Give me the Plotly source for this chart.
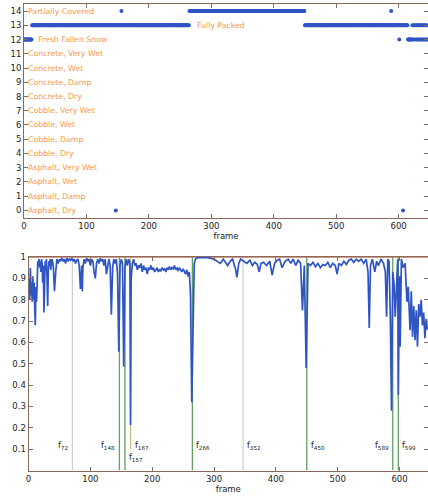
import plotly.graph_objects as go

# ---------------- data: top chart (class per frame, as runs) ----------------
class_names = ["Asphalt, Dry", "Asphalt, Damp", "Asphalt, Wet", "Asphalt, Very Wet",
               "Cobble, Dry", "Cobble, Damp", "Cobble, Wet", "Cobble, Very Wet",
               "Concrete, Dry", "Concrete, Damp", "Concrete, Wet", "Concrete, Very Wet",
               "Fresh Fallen Snow", "Fully Packed", "Partially Covered"]
label_frames = [3, 3, 3, 3, 3, 3, 3, 3, 3, 3, 3, 3, 19, 274, 3]

run_start = [0, 13, 147, 148, 156, 157, 265, 450, 588, 589, 601, 602, 607, 608, 615, 622, 623, 624, 625, 626, 628, 629, 630, 631, 632, 633, 634, 635, 636, 637, 638, 639, 640, 641, 642, 643, 644, 645, 646]
run_end   = [12, 146, 147, 155, 156, 264, 449, 587, 588, 600, 601, 606, 607, 614, 621, 622, 623, 624, 625, 627, 628, 629, 630, 631, 632, 633, 634, 635, 636, 637, 638, 639, 640, 641, 642, 643, 644, 645, 646]
run_class = [12, 13, 0, 13, 14, 13, 14, 13, 14, 13, 12, 13, 0, 13, 12, 13, 12, 13, 12, 13, 12, 13, 12, 13, 12, 13, 12, 13, 12, 13, 12, 13, 12, 13, 12, 13, 12, 13, 12]

# ---------------- data: bottom chart (confidence per frame) ----------------
conf_frames = [0, 1, 2, 3, 4, 5, 6, 7, 8, 9, 10, 11, 12, 13, 14, 15, 16, 17, 18, 19,
               20, 21, 22, 23, 24, 25, 26, 27, 28, 29, 30, 31, 32, 33, 34, 35, 36, 37, 38, 40,
               42, 44, 46, 48, 50, 52, 54, 56, 58, 60, 62, 64, 66, 68, 70, 72, 74, 76, 78, 80,
               82, 84, 86, 87, 88, 90, 92, 94, 96, 98, 100, 102, 104, 106, 108, 110, 112, 114, 116, 118,
               120, 122, 124, 126, 128, 130, 132, 134, 136, 138, 140, 142, 144, 146, 148, 150, 152, 154, 156, 158,
               160, 162, 164, 165, 166, 168, 170, 172, 174, 176, 178, 180, 182, 184, 186, 188, 190, 192, 194, 196,
               198, 200, 202, 204, 206, 208, 210, 212, 214, 216, 218, 220, 222, 224, 226, 228, 230, 232, 234, 236,
               238, 240, 242, 244, 246, 248, 250, 252, 254, 256, 258, 260, 262, 264, 266, 268, 270, 272, 276, 280,
               290, 300, 305, 310, 315, 322, 326, 330, 335, 337, 340, 343, 348, 353, 358, 362, 366, 370, 373, 376,
               380, 385, 390, 394, 398, 402, 406, 410, 415, 420, 424, 428, 432, 436, 440, 443, 446, 449, 452, 456,
               460, 464, 468, 472, 476, 480, 484, 488, 492, 496, 499, 502, 506, 510, 514, 518, 522, 526, 530, 534,
               538, 542, 546, 549, 551, 553, 556, 560, 563, 566, 570, 574, 577, 579, 581, 583, 585, 587, 589, 591,
               593, 595, 597, 598, 600, 601, 603, 606, 609, 612, 614, 617, 619, 621, 623, 625, 627, 629, 631, 633,
               635, 637, 639, 641, 643, 645]
conf_values = [0.82, 0.90, 0.80, 0.95, 0.82, 0.88, 0.79, 0.91, 0.80, 0.88, 0.77, 0.68, 0.86, 0.79, 0.88, 0.98, 0.96, 0.99, 0.95, 0.98,
               0.93, 0.99, 0.97, 0.88, 0.96, 0.74, 0.92, 0.98, 0.95, 0.99, 0.90, 0.77, 0.93, 0.98, 0.96, 0.99, 0.94, 0.98, 0.99, 0.96,
               0.84, 0.93, 0.99, 0.97, 0.99, 0.98, 0.995, 0.98, 0.99, 0.97, 0.995, 0.98, 0.99, 0.985, 0.995, 0.98, 0.99, 0.97, 0.985, 0.99,
               0.96, 0.85, 0.96, 0.84, 0.95, 0.99, 0.97, 0.995, 0.98, 0.99, 0.96, 0.99, 0.98, 0.93, 0.90, 0.97, 0.99, 0.97, 0.995, 0.98,
               0.99, 0.96, 0.99, 0.92, 0.97, 0.99, 0.96, 0.73, 0.95, 0.99, 0.97, 0.99, 0.92, 0.556, 0.96, 0.99, 0.97, 0.486, 0.95, 0.99,
               0.96, 0.99, 0.97, 0.213, 0.90, 0.97, 0.99, 0.96, 0.97, 0.94, 0.96, 0.95, 0.97, 0.93, 0.96, 0.94, 0.95, 0.92, 0.95, 0.94,
               0.96, 0.94, 0.95, 0.93, 0.94, 0.95, 0.93, 0.94, 0.935, 0.95, 0.94, 0.945, 0.93, 0.95, 0.94, 0.955, 0.94, 0.95, 0.945, 0.96,
               0.94, 0.95, 0.935, 0.95, 0.94, 0.93, 0.945, 0.935, 0.92, 0.94, 0.91, 0.93, 0.82, 0.32, 0.75, 0.97, 0.99, 0.995, 0.998, 0.998,
               0.997, 0.99, 0.98, 0.97, 0.99, 0.96, 0.98, 0.99, 0.94, 0.905, 0.97, 0.99, 0.98, 0.97, 0.985, 0.96, 0.975, 0.965, 0.93, 0.97,
               0.975, 0.96, 0.98, 0.915, 0.97, 0.985, 0.99, 0.95, 0.98, 0.99, 0.97, 0.99, 0.96, 0.985, 0.97, 0.75, 0.96, 0.48, 0.97, 0.96,
               0.975, 0.955, 0.97, 0.95, 0.965, 0.96, 0.975, 0.95, 0.97, 0.96, 0.92, 0.97, 0.96, 0.98, 0.965, 0.985, 0.99, 0.975, 0.99, 0.98,
               0.99, 0.97, 0.99, 0.93, 0.667, 0.96, 0.99, 0.93, 0.98, 0.96, 0.99, 0.97, 0.93, 0.72, 0.99, 0.98, 0.74, 0.28, 0.93, 0.876,
               0.72, 0.845, 0.99, 0.354, 0.91, 0.58, 0.99, 0.95, 0.97, 0.79, 0.86, 0.657, 0.84, 0.626, 0.77, 0.61, 0.75, 0.58, 0.78, 0.72,
               0.80, 0.68, 0.74, 0.62, 0.71, 0.66]
ref_frames = [0, 646]
ref_values = [1.0, 1.0]

event_frames = [71, 147, 156, 165, 265, 347, 450, 589, 598]
event_labels = ["72", "148", "157", "167", "266", "352", "450", "589", "599"]
event_kind = ["gray", "green", "green", "olive", "green", "gray", "green", "green", "green"]
label_side = ["left", "left", "right", "right", "right", "right", "right", "left", "right"]
label_level = [0.115, 0.115, 0.06, 0.115, 0.115, 0.115, 0.115, 0.115, 0.115]

x_ticks = [0, 100, 200, 300, 400, 500, 600]
y2_ticks = [0.1, 0.2, 0.3, 0.4, 0.5, 0.6, 0.7, 0.8, 0.9, 1.0]
y2_ticktext = ["0.1", "0.2", "0.3", "0.4", "0.5", "0.6", "0.7", "0.8", "0.9", "1"]

# ---------------- build ----------------
BLUE = "#2f55c4"
ORANGE = "#f59a4c"
AXC = "#8a6a5e"
FONT = "DejaVu Sans"
kind_color = {"gray": "#d0d0d0", "green": "#5f9f63", "olive": "#c4c07a"}

top_x, top_y = [], []
for s, e, c in zip(run_start, run_end, run_class):
    for f in range(s, e + 1):
        top_x.append(f)
        top_y.append(c)

fig = go.Figure()
fig.add_trace(go.Scatter(x=top_x, y=top_y, mode="markers",
                         marker=dict(color=BLUE, size=4, line=dict(width=0)),
                         xaxis="x", yaxis="y", showlegend=False))
fig.add_trace(go.Scatter(x=ref_frames, y=ref_values, mode="lines",
                         line=dict(color="#c47a55", width=1.6),
                         xaxis="x2", yaxis="y2", showlegend=False))
fig.add_trace(go.Scatter(x=conf_frames, y=conf_values, mode="lines",
                         line=dict(color=BLUE, width=1.7),
                         xaxis="x2", yaxis="y2", showlegend=False))

annotations = []
for i, name in enumerate(class_names):
    annotations.append(dict(x=label_frames[i], y=i, xref="x", yref="y", text=name,
                            showarrow=False, xanchor="left", yanchor="middle",
                            font=dict(family=FONT, size=7.8, color=ORANGE)))

shapes = []
for f, lab, kind, side, lvl in zip(event_frames, event_labels, event_kind, label_side, label_level):
    y0 = 0.1 if kind == "olive" else 0
    shapes.append(dict(type="line", xref="x2", yref="y2", x0=f, x1=f, y0=y0, y1=1,
                       line=dict(color=kind_color[kind], width=1.3), layer="below"))
    annotations.append(dict(x=f, y=lvl, xref="x2", yref="y2", text="f<sub>" + lab + "</sub>",
                            showarrow=False,
                            xanchor="right" if side == "left" else "left",
                            xshift=-2 if side == "left" else 2, yanchor="middle",
                            font=dict(family=FONT, size=8, color="#222")))

axis_common = dict(showline=True, linecolor=AXC, linewidth=1, mirror="ticks",
                   ticks="inside", ticklen=4, tickcolor=AXC, showgrid=False, zeroline=False,
                   tickfont=dict(family=FONT, size=8.5, color="#222"), automargin=False)

fig.update_layout(
    width=428, height=496, margin=dict(l=0, r=0, t=0, b=0),
    paper_bgcolor="white", plot_bgcolor="white",
    xaxis=dict(domain=[24 / 428, 1], range=[0, 647], anchor="y", tickvals=x_ticks,
               title=dict(text="frame", font=dict(family=FONT, size=8.5, color="#222"), standoff=2),
               **axis_common),
    yaxis=dict(domain=[1 - 217.5 / 496, 1 - 4 / 496], range=[-0.5, 14.5], anchor="x",
               tickvals=list(range(15)), **axis_common),
    xaxis2=dict(domain=[28.5 / 428, 1], range=[0, 646], anchor="y2", tickvals=x_ticks,
                title=dict(text="frame", font=dict(family=FONT, size=8.5, color="#222"), standoff=2),
                **axis_common),
    yaxis2=dict(domain=[1 - 470.5 / 496, 1 - 257 / 496], range=[0, 1], anchor="x2",
                tickvals=y2_ticks, ticktext=y2_ticktext, **axis_common),
    annotations=annotations, shapes=shapes,
)

fig.write_html("out.html", config={"displayModeBar": False},
               post_script="document.body.style.margin='0';document.body.style.overflow='hidden';")
